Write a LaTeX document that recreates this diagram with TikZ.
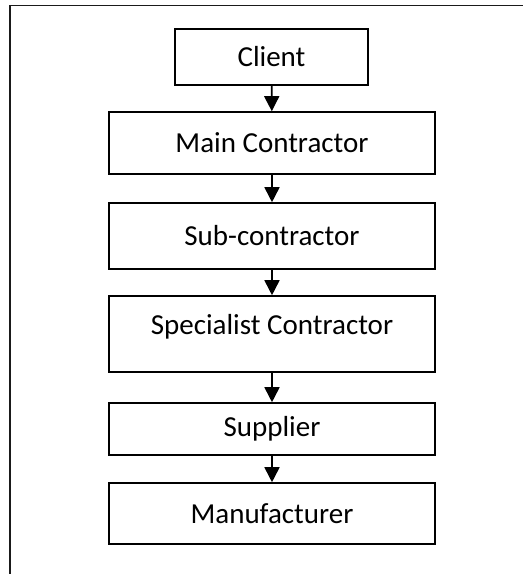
\documentclass[tikz,border=0pt]{standalone}
\usepackage{fontspec}
\setmainfont{Carlito}
\usepackage{tikz}
\usetikzlibrary{arrows.meta}
\definecolor{ink}{HTML}{000000}
\definecolor{frame}{HTML}{1A1A1A}
\tikzset{
  stage/.style={draw=ink, line width=1.6pt, minimum width=326pt, inner sep=0pt,
    font=\fontsize{29}{34}\selectfont},
  flow/.style={draw=ink, line width=1.7pt, -{Triangle[width=15pt,length=15pt]}},
  border/.style={draw=frame, line width=1.8pt}
}

\begin{document}
\begin{tikzpicture}[x=1pt,y=-1pt]
  \useasboundingbox (0,0) rectangle (523,574);

  % outer frame (only top and left edge show)
  \draw[border] (10,574) -- (10,5.5) -- (523,5.5);

  \node[stage, minimum width=193pt, minimum height=56pt] (client) at (271.5,57) {Client};
  \node[stage, minimum height=62pt] (main) at (272,143) {Main Contractor};
  \node[stage, minimum height=66pt] (sub) at (272,236) {Sub-contractor};
  \node[stage, minimum height=76pt, text depth=20pt] (spec) at (272,334) {Specialist Contractor};
  \node[stage, minimum height=52pt] (supp) at (272,429) {Supplier};
  \node[stage, minimum height=61pt] (manu) at (272,513.5) {Manufacturer};

  % chain of supply
  \draw[flow] (client) -- (main);
  \draw[flow] (main) -- (sub);
  \draw[flow] (sub) -- (spec);
  \draw[flow] (spec) -- (supp);
  \draw[flow] (supp) -- (manu);
\end{tikzpicture}
\end{document}
